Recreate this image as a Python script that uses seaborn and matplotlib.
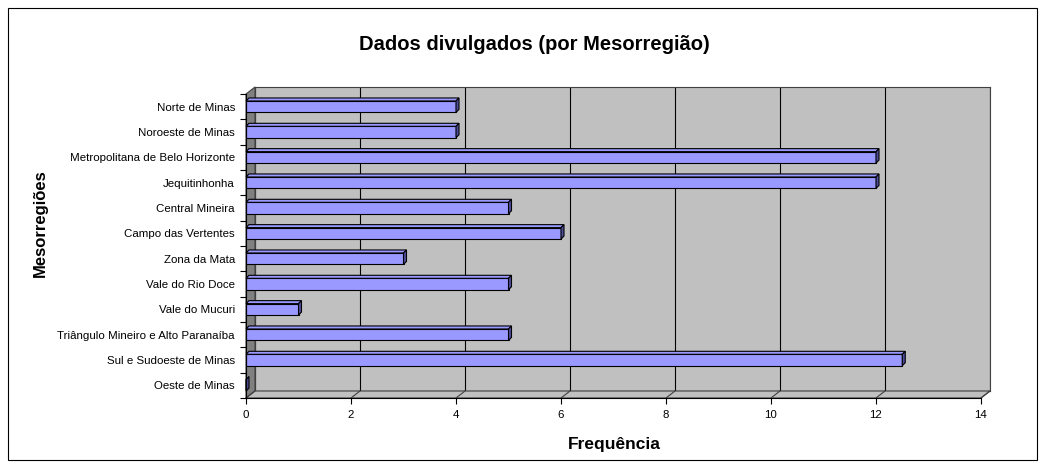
import matplotlib
matplotlib.use('Agg')
import matplotlib.pyplot as plt
import seaborn as sns
from matplotlib.patches import Polygon, Rectangle
from matplotlib.lines import Line2D
from matplotlib.transforms import IdentityTransform

# dados
regioes = ['Norte de Minas', 'Noroeste de Minas', 'Metropolitana de Belo Horizonte',
           'Jequitinhonha', 'Central Mineira', 'Campo das Vertentes', 'Zona da Mata',
           'Vale do Rio Doce', 'Vale do Mucuri', 'Triângulo Mineiro e Alto Paranaíba',
           'Sul e Sudoeste de Minas', 'Oeste de Minas']
frequencias = [4, 4, 12, 12, 5, 6, 3, 5, 1, 5, 12.5, 0]
xticks = list(range(0, 15, 2))

sns.set_theme(style='white')
plt.rcParams['font.family'] = ['Liberation Sans', 'DejaVu Sans']
plt.rcParams.update({'text.color': 'black', 'xtick.color': 'black', 'ytick.color': 'black',
                     'axes.labelcolor': 'black'})

W, H = 1045, 468
fig = plt.figure(figsize=(W / 100, H / 100), dpi=100)


def fx(px):
    return px / W


def fy(py):
    return 1 - py / H


# plano frontal e profundidade (px)
x0, x1, y0, y1 = 246, 981, 94, 398
dx, dy = 9, 7

# parede do fundo
axb = fig.add_axes([fx(x0 + dx), fy(y1 - dy), (x1 - x0) / W, (y1 - y0) / H], zorder=0)
axb.set_facecolor('#c0c0c0')
axb.set_xlim(0, 14)
axb.set_ylim(0, 1)
axb.set_xticks(xticks)
axb.set_yticks([])
axb.grid(axis='x', color='black', lw=0.8)
axb.tick_params(length=0, labelbottom=False, labelleft=False)
for s in axb.spines.values():
    s.set_color('#404040')
    s.set_linewidth(0.8)

# parede lateral e piso
side = Polygon([(x0, y1), (x0, y0), (x0 + dx, y0 - dy), (x0 + dx, y1 - dy)],
               closed=True, transform=IdentityTransform(), fc='#808080', ec='#404040',
               lw=0.8, zorder=0.5)
floor = Polygon([(x0, y1), (x1, y1), (x1 + dx, y1 - dy), (x0 + dx, y1 - dy)],
                closed=True, transform=IdentityTransform(), fc='#c0c0c0', ec='#404040',
                lw=0.8, zorder=0.5)
# coordenadas de exibição: y cresce para cima
for p in (side, floor):
    p.set_xy([(px, H - py) for px, py in p.get_xy()])
    fig.patches.append(p)

# eixo frontal com as barras
ax = fig.add_axes([fx(x0), fy(y1), (x1 - x0) / W, (y1 - y0) / H], zorder=1)
ax.set_facecolor('none')
sns.barplot(x=frequencias, y=regioes, orient='h', color='#9999ff', saturation=1,
            edgecolor='black', linewidth=0.8, width=0.45, ax=ax)
ax.set_xlim(0, 14)
ax.set_ylim(len(regioes) - 0.5, -0.5)
ax.set_xticks(xticks)
ax.set_xlabel('')
ax.set_ylabel('')
ax.set_yticks([i + 0.5 for i in range(-1, len(regioes))], minor=True)
ax.tick_params(axis='y', which='major', length=0, labelsize=8.25, pad=8)
ax.tick_params(axis='y', which='minor', length=4, width=0.8, color='black', left=True)
ax.tick_params(axis='x', length=4, width=0.8, color='black', bottom=True, labelsize=8.25, pad=5)
for k in ('top', 'right'):
    ax.spines[k].set_visible(False)
for k in ('left', 'bottom'):
    ax.spines[k].set_color('black')
    ax.spines[k].set_linewidth(0.8)

# diagonais do piso
for t in xticks:
    xb = axb.transData.transform((t, 0))[0]
    xf = ax.transData.transform((t, 0))[0]
    fig.lines.append(Line2D([xb, xf], [H - (y1 - dy), H - y1], color='#404040', lw=0.8,
                            transform=IdentityTransform(), zorder=0.6))

# faces 3D das barras
d = 3
for p in list(ax.patches):
    bx, by, bw, bh = p.get_x(), p.get_y(), p.get_width(), p.get_height()
    lx, ty = ax.transData.transform((bx, by))
    rx, by_ = ax.transData.transform((bx + bw, by + bh))
    top = Polygon([(lx, ty), (rx, ty), (rx + d, ty + d), (lx + d, ty + d)], closed=True,
                  transform=IdentityTransform(), fc='#9999ff', ec='black', lw=0.8, clip_on=False)
    lat = Polygon([(rx, ty), (rx + d, ty + d), (rx + d, by_ + d), (rx, by_)], closed=True,
                  transform=IdentityTransform(), fc='#4c4c99', ec='black', lw=0.8, clip_on=False)
    ax.add_patch(top)
    ax.add_patch(lat)

# textos
fig.text(fx(534), fy(44), 'Dados divulgados (por Mesorregião)', ha='center', va='center',
         fontsize=14.5, fontweight='bold')
fig.text(fx(614), fy(445), 'Frequência', ha='center', va='center', fontsize=12.5,
         fontweight='bold')
fig.text(fx(40), fy(223), 'Mesorregiões', ha='center', va='center', rotation=90,
         fontsize=12, fontweight='bold')

# moldura externa
fig.patches.append(Rectangle((fx(8), fy(460)), 1029 / W, 452 / H, transform=fig.transFigure,
                             fill=False, ec='black', lw=0.8))

fig.savefig('out.png', dpi=100, facecolor='white')
